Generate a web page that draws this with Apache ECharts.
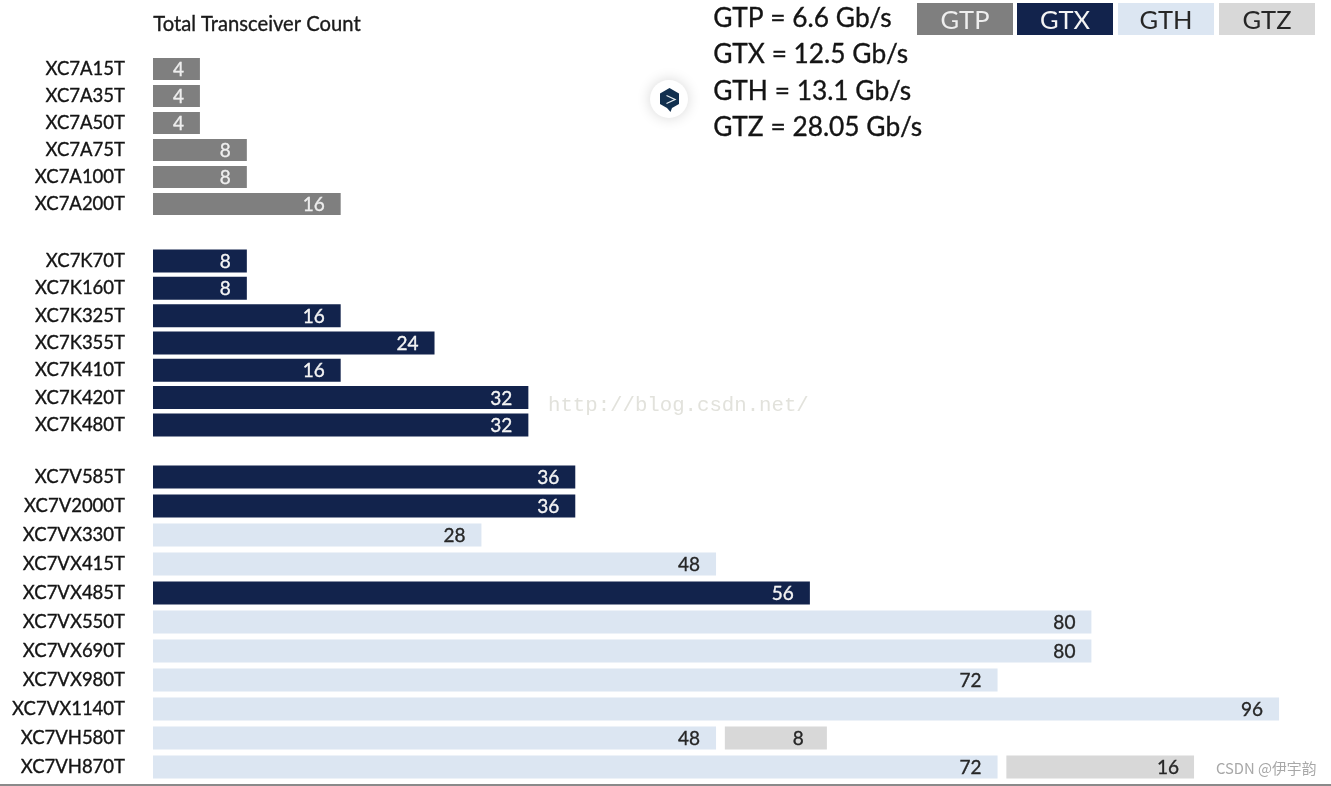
<!DOCTYPE html>
<html><head><meta charset="utf-8">
<style>html,body{margin:0;padding:0;background:#fff}#c{width:1331px;height:786px}</style>
<script src="https://cdn.jsdelivr.net/npm/echarts@6/dist/echarts.min.js"></script>
</head><body><div id="c"></div>
<script>
const artixNames=['XC7A15T','XC7A35T','XC7A50T','XC7A75T','XC7A100T','XC7A200T'];
const artixCounts=[4,4,4,8,8,16];
const artixTypes=['GTP','GTP','GTP','GTP','GTP','GTP'];
const kintexNames=['XC7K70T','XC7K160T','XC7K325T','XC7K355T','XC7K410T','XC7K420T','XC7K480T'];
const kintexCounts=[8,8,16,24,16,32,32];
const kintexTypes=['GTX','GTX','GTX','GTX','GTX','GTX','GTX'];
const virtexNames=['XC7V585T','XC7V2000T','XC7VX330T','XC7VX415T','XC7VX485T','XC7VX550T','XC7VX690T','XC7VX980T','XC7VX1140T','XC7VH580T','XC7VH870T'];
const virtexCounts=[36,36,28,48,56,80,80,72,96,48,72];
const virtexTypes=['GTX','GTX','GTH','GTH','GTX','GTH','GTH','GTH','GTH','GTH','GTH'];
const virtexGtzCounts=[0,0,0,0,0,0,0,0,0,8,16];
const virtexGtzDrawn=[0,0,0,0,0,0,0,0,0,8.7,16];
const speedLines=['GTP = 6.6 Gb/s','GTX = 12.5 Gb/s','GTH = 13.1 Gb/s','GTZ = 28.05 Gb/s'];
const legendNames=['GTP','GTX','GTH','GTZ'];

const FONT='Lato';
const fills={GTP:'#7f7f7f',GTX:'#12234c',GTH:'#dce6f2',GTZ:'#d8d8d8'};
const inks={GTP:'#eeeeee',GTX:'#f4f4f4',GTH:'#262626',GTZ:'#262626'};
const groups=[
 {names:artixNames,counts:artixCounts,types:artixTypes,top:55.5,step:27,bar:22},
 {names:kintexNames,counts:kintexCounts,types:kintexTypes,top:247.3,step:27.33,bar:23},
 {names:virtexNames,counts:virtexCounts,types:virtexTypes,top:462.5,step:29,bar:23}
];
const grid=[],xAxis=[],yAxis=[],series=[];
groups.forEach((g,i)=>{
  grid.push({left:153,width:1173,top:g.top,height:g.step*g.names.length});
  xAxis.push({gridIndex:i,type:'value',min:0,max:100,show:false});
  yAxis.push({gridIndex:i,type:'category',inverse:true,data:g.names,
    axisLine:{show:false},axisTick:{show:false},
    axisLabel:{fontFamily:FONT,fontSize:18.5,color:'#141414',margin:28,align:'right',padding:[1,0,0,0],
      textBorderColor:'#141414',textBorderWidth:0.35}});
  series.push({type:'bar',xAxisIndex:i,yAxisIndex:i,stack:'g'+i,barWidth:g.bar,silent:true,
    data:g.counts.map((v,k)=>({value:v,
      itemStyle:{color:fills[g.types[k]]},
      label:{color:inks[g.types[k]],textBorderColor:inks[g.types[k]]}})),
    label:{show:true,position:'insideRight',distance:16,offset:[0,1],fontFamily:FONT,fontSize:19,textBorderWidth:0.35}});
});
series.push({type:'bar',xAxisIndex:2,yAxisIndex:2,stack:'g2',barWidth:23,silent:true,
  data:virtexGtzCounts.map(v=>v?0.75:0),itemStyle:{color:'transparent'}});
series.push({type:'bar',xAxisIndex:2,yAxisIndex:2,stack:'g2',barWidth:23,silent:true,
  data:virtexGtzDrawn.map((v,k)=>({value:v,
    label:{show:v>0,formatter:String(virtexGtzCounts[k]),distance:v===16?15:23}})),
  itemStyle:{color:fills.GTZ},
  label:{position:'insideRight',offset:[0,1],fontFamily:FONT,fontSize:19,color:inks.GTZ,textBorderColor:inks.GTZ,textBorderWidth:0.35}});

const heavy=c=>({stroke:c,lineWidth:0.35});
const graphic=[];
graphic.push({type:'text',left:153,top:14,style:{text:'Total Transceiver Count',fontFamily:FONT,fontSize:20.2,fill:'#1a1a1a',...heavy('#1a1a1a')}});
speedLines.forEach((t,i)=>graphic.push({type:'text',left:713,top:[5,41,78,114][i],
  style:{text:t,fontFamily:FONT,fontSize:26.3,fill:'#141414',...heavy('#141414')}}));
const boxX=[917,1017,1118,1219];
legendNames.forEach((n,i)=>{
  graphic.push({type:'rect',shape:{x:boxX[i],y:3,width:96,height:32},style:{fill:fills[n]}});
  graphic.push({type:'text',x:boxX[i]+48,y:21,style:{text:n,fontFamily:FONT,fontSize:25.5,fill:inks[n],align:'center',verticalAlign:'middle'}});
});
graphic.push({type:'text',left:548,top:395,style:{text:'http://blog.csdn.net/',fontFamily:'Liberation Mono',fontSize:20.7,fill:'#e2e2dc'}});
graphic.push({type:'text',left:1216,top:761,style:{text:'CSDN @伊宇韵',fontFamily:'Noto Sans CJK SC',fontSize:14.8,fill:'#a8a8a8'}});
graphic.push({type:'rect',shape:{x:0,y:784,width:1331,height:2},style:{fill:'#8a8a8a'}});
graphic.push({type:'circle',shape:{cx:669,cy:99,r:19},style:{fill:'#fff',shadowBlur:14,shadowColor:'rgba(0,0,0,0.16)'}});
graphic.push({type:'polygon',shape:{points:[[669.5,88],[679,93.5],[679,104],[672,108],[670.5,112],[667,108],[660,104],[660,93.5]]},style:{fill:'#12304f'}});
graphic.push({type:'polyline',shape:{points:[[666.5,95.5],[675,99.5],[666.5,103.5]]},style:{stroke:'#e8eef2',fill:'none',lineWidth:1.3}});

echarts.init(document.getElementById('c'),null,{renderer:'canvas'}).setOption({
  animation:false,backgroundColor:'#fff',grid,xAxis,yAxis,series,graphic
});
</script></body></html>
